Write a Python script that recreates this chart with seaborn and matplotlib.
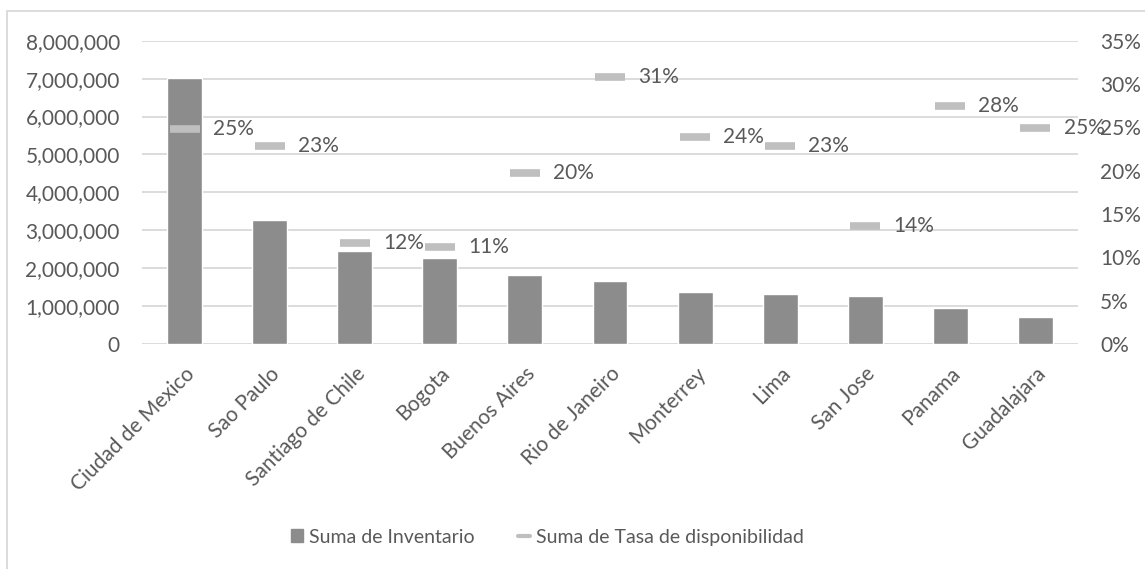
import numpy as np
import pandas as pd
import matplotlib.pyplot as plt
import seaborn as sns
from matplotlib.lines import Line2D
from matplotlib.patches import Patch
from matplotlib.ticker import FuncFormatter, PercentFormatter

ciudades = ["Ciudad de Mexico", "Sao Paulo", "Santiago de Chile", "Bogota", "Buenos Aires",
            "Rio de Janeiro", "Monterrey", "Lima", "San Jose", "Panama", "Guadalajara"]
inventario = [7010000, 3280000, 2450000, 2260000, 1830000, 1660000,
              1370000, 1330000, 1270000, 950000, 700000]
tasa = [0.248, 0.229, 0.116, 0.112, 0.197, 0.308, 0.239, 0.229, 0.136, 0.275, 0.249]

bar_color = "#8C8C8C"
line_color = "#BFBFBF"
text_color = "#595959"
grid_color = "#D9D9D9"

sns.set_style("white")
plt.rcParams['font.family'] = ['Lato', 'DejaVu Sans']

df = pd.DataFrame({"Ciudad": ciudades, "Inventario": inventario, "Tasa": tasa})
df["pos"] = np.arange(len(df))

fig = plt.figure(figsize=(11.45, 5.69), dpi=100)
ax = fig.add_axes([0.124, 0.3954, 0.8175, 0.5331])

sns.barplot(data=df, x="Ciudad", y="Inventario", color=bar_color, width=0.41,
            saturation=1, ax=ax, zorder=2)
ax.set_ylim(0, 8000000)
ax.set_yticks(np.arange(0, 8000001, 1000000))
ax.yaxis.set_major_formatter(FuncFormatter(lambda v, p: f"{v:,.0f}"))
ax.set_xlim(-0.5, len(df) - 0.5)
ax.grid(axis="y", color=grid_color, linewidth=1.3, zorder=0)
ax.set_axisbelow(True)
ax.set_xlabel("")
ax.set_ylabel("")
for s in ax.spines.values():
    s.set_visible(False)
ax.tick_params(axis="y", length=0, pad=16, labelsize=15, labelcolor=text_color)
ax.tick_params(axis="x", length=0, pad=14, labelsize=15, labelcolor=text_color)
plt.setp(ax.get_xticklabels(), rotation=45, ha="right", rotation_mode="anchor")

ax2 = ax.twinx()
sns.lineplot(data=df, x="pos", y="Tasa", ax=ax2, marker="_", linestyle="",
             color=line_color, markersize=22, markeredgewidth=5.5, markeredgecolor=line_color)
ax2.set_ylim(0, 0.35)
ax2.set_yticks(np.arange(0, 0.351, 0.05))
ax2.yaxis.set_major_formatter(PercentFormatter(1.0, decimals=0))
ax2.set_ylabel("")
for s in ax2.spines.values():
    s.set_visible(False)
ax2.tick_params(axis="y", length=0, pad=16, labelsize=15, labelcolor=text_color)

for p, v in zip(df["pos"], df["Tasa"]):
    ax2.text(p + 0.33, v, f"{v:.0%}", va="center", ha="left", fontsize=15, color=text_color)

handles = [Patch(color=bar_color), Line2D([0], [0], color=line_color, lw=3)]
fig.legend(handles, ["Suma de Inventario", "Suma de Tasa de disponibilidad"],
           loc="center", bbox_to_anchor=(0.478, 0.056), ncol=2, frameon=False,
           fontsize=14, labelcolor=text_color, handlelength=0.65, handleheight=0.65,
           handletextpad=0.3, columnspacing=2.2)

# chart frame
fig.add_artist(Line2D([7 / 1145, 7 / 1145], [0, 1 - 11 / 569], color=grid_color, lw=1.3))
fig.add_artist(Line2D([7 / 1145, 1], [1 - 11 / 569, 1 - 11 / 569], color=grid_color, lw=1.3))

fig.savefig("out.png", dpi=100)
